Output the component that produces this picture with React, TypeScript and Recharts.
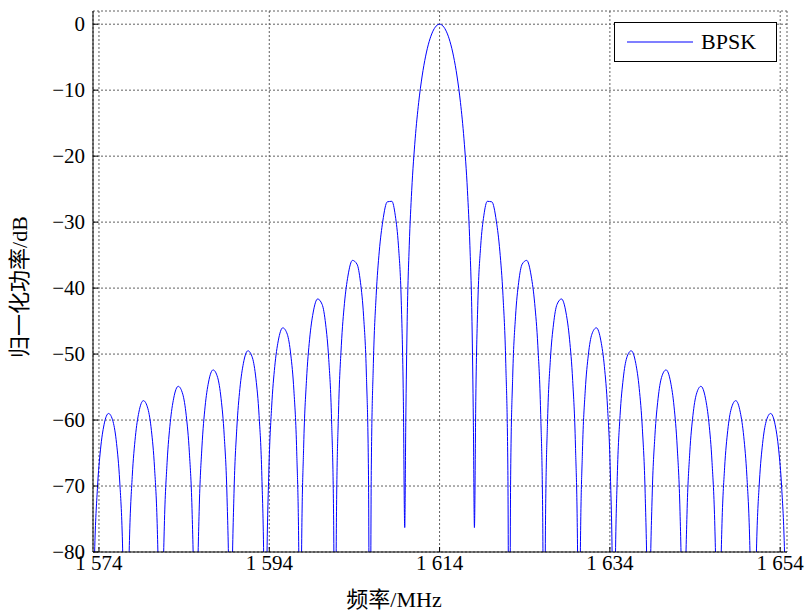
import React from 'react';
import { LineChart, Line, XAxis, YAxis, CartesianGrid } from 'recharts';

const SERIF = "'Liberation Serif', 'Times New Roman', 'DejaVu Serif', serif";
const MIXED = "'Liberation Serif', 'Noto Sans CJK SC', serif";

// Frequency (MHz) / normalised power (dB), left side lobes
const leftFreq = [
  1573.08,
  1573.244, 1573.489, 1573.817, 1574.185, 1574.594, 1575.126, 1575.658, 1576.067, 1576.435, 1576.763, 1577.008,
  1577.172,
  1577.336, 1577.581, 1577.909, 1578.277, 1578.686, 1579.218, 1579.75, 1580.159, 1580.527, 1580.855, 1581.1,
  1581.264,
  1581.428, 1581.673, 1582.001, 1582.369, 1582.778, 1583.31, 1583.842, 1584.251, 1584.619, 1584.947, 1585.192,
  1585.356,
  1585.52, 1585.765, 1586.093, 1586.461, 1586.87, 1587.402, 1587.934, 1588.343, 1588.711, 1589.039, 1589.284,
  1589.448,
  1589.612, 1589.857, 1590.185, 1590.553, 1590.962, 1591.494, 1592.026, 1592.435, 1592.803, 1593.131, 1593.376,
  1593.54,
  1593.704, 1593.949, 1594.277, 1594.645, 1595.054, 1595.586, 1596.118, 1596.527, 1596.895, 1597.223, 1597.468,
  1597.632,
  1597.796, 1598.041, 1598.369, 1598.737, 1599.146, 1599.678, 1600.21, 1600.619, 1600.987, 1601.315, 1601.56,
  1601.724,
  1601.888, 1602.133, 1602.461, 1602.829, 1603.238, 1603.77, 1604.302, 1604.711, 1605.079, 1605.407, 1605.652,
  1605.816,
  1605.98, 1606.225, 1606.553, 1606.921, 1607.33, 1607.862, 1608.394, 1608.803, 1609.171, 1609.499, 1609.744,
  1609.908,
];
const leftPower = [
  -110,
  -95.9, -80.11, -70.41, -64.41, -60.72, -59.0, -60.25, -63.56, -69.24, -78.65, -94.21,
  -110,
  -94.06, -78.26, -68.55, -62.52, -58.82, -57.06, -58.29, -61.58, -67.24, -76.63, -92.18,
  -110,
  -92.0, -76.19, -66.45, -60.41, -56.68, -54.89, -56.08, -59.34, -64.97, -74.34, -89.87,
  -110,
  -89.67, -73.84, -64.08, -58.0, -54.24, -52.4, -53.54, -56.77, -62.37, -71.7, -87.21,
  -110,
  -86.98, -71.12, -61.32, -55.21, -51.4, -49.5, -50.58, -53.75, -59.3, -68.59, -84.06,
  -110,
  -83.79, -67.9, -58.05, -51.88, -48.0, -46.02, -47.0, -50.1, -55.57, -64.8, -80.22,
  -110,
  -79.88, -63.93, -54.01, -47.75, -43.77, -41.65, -42.48, -45.46, -50.82, -59.94, -75.28,
  -110,
  -74.82, -58.79, -48.74, -42.33, -38.18, -35.8, -36.37, -39.12, -44.27, -53.18, -68.36,
  -110,
  -67.66, -51.44, -41.13, -34.4, -29.87, -26.93, -26.85, -29.03, -33.6, -41.94, -56.65,
  -76.3,
];

// Main lobe
const mainFreq = [
  1610.031, 1610.194, 1610.44, 1610.726, 1611.136, 1611.545, 1611.954, 1612.363, 1612.772, 1613.182, 1613.591,
  1614.0,
  1614.409, 1614.818, 1615.228, 1615.637, 1616.046, 1616.455, 1616.864, 1617.274, 1617.56, 1617.806, 1617.969,
];
const mainPower = [
  -60.41, -45.08, -33.51, -25.24, -17.37, -11.88, -7.85, -4.84, -2.65, -1.16, -0.29,
  0,
  -0.29, -1.16, -2.65, -4.84, -7.85, -11.88, -17.37, -25.24, -33.51, -45.08, -60.41,
];

// Right side lobes
const rightFreq = [
  1618.092,
  1618.256, 1618.501, 1618.829, 1619.197, 1619.606, 1620.138, 1620.67, 1621.079, 1621.447, 1621.775, 1622.02,
  1622.184,
  1622.348, 1622.593, 1622.921, 1623.289, 1623.698, 1624.23, 1624.762, 1625.171, 1625.539, 1625.867, 1626.112,
  1626.276,
  1626.44, 1626.685, 1627.013, 1627.381, 1627.79, 1628.322, 1628.854, 1629.263, 1629.631, 1629.959, 1630.204,
  1630.368,
  1630.532, 1630.777, 1631.105, 1631.473, 1631.882, 1632.414, 1632.946, 1633.355, 1633.723, 1634.051, 1634.296,
  1634.46,
  1634.624, 1634.869, 1635.197, 1635.565, 1635.974, 1636.506, 1637.038, 1637.447, 1637.815, 1638.143, 1638.388,
  1638.552,
  1638.716, 1638.961, 1639.289, 1639.657, 1640.066, 1640.598, 1641.13, 1641.539, 1641.907, 1642.235, 1642.48,
  1642.644,
  1642.808, 1643.053, 1643.381, 1643.749, 1644.158, 1644.69, 1645.222, 1645.631, 1645.999, 1646.327, 1646.572,
  1646.736,
  1646.9, 1647.145, 1647.473, 1647.841, 1648.25, 1648.782, 1649.314, 1649.723, 1650.091, 1650.419, 1650.664,
  1650.828,
  1650.992, 1651.237, 1651.565, 1651.933, 1652.342, 1652.874, 1653.406, 1653.815, 1654.183, 1654.511, 1654.756,
  1654.92,
];
const rightPower = [
  -76.3,
  -56.65, -41.94, -33.6, -29.03, -26.85, -26.93, -29.87, -34.4, -41.13, -51.44, -67.66,
  -110,
  -68.36, -53.18, -44.27, -39.12, -36.37, -35.8, -38.18, -42.33, -48.74, -58.79, -74.82,
  -110,
  -75.28, -59.94, -50.82, -45.46, -42.48, -41.65, -43.77, -47.75, -54.01, -63.93, -79.88,
  -110,
  -80.22, -64.8, -55.57, -50.1, -47.0, -46.02, -48.0, -51.88, -58.05, -67.9, -83.79,
  -110,
  -84.06, -68.59, -59.3, -53.75, -50.58, -49.5, -51.4, -55.21, -61.32, -71.12, -86.98,
  -110,
  -87.21, -71.7, -62.37, -56.77, -53.54, -52.4, -54.24, -58.0, -64.08, -73.84, -89.67,
  -110,
  -89.87, -74.34, -64.97, -59.34, -56.08, -54.89, -56.68, -60.41, -66.45, -76.19, -92.0,
  -110,
  -92.18, -76.63, -67.24, -61.58, -58.29, -57.06, -58.82, -62.52, -68.55, -78.26, -94.06,
  -110,
  -94.21, -78.65, -69.24, -63.56, -60.25, -59.0, -60.72, -64.41, -70.41, -80.11, -95.9,
  -110,
];

const xTicks = [1574, 1594, 1614, 1634, 1654];
const xTickLabels = ['1 574', '1 594', '1 614', '1 634', '1 654'];
const yTicks = [0, -10, -20, -30, -40, -50, -60, -70, -80];
const yTickLabels = ['0', '\u221210', '\u221220', '\u221230', '\u221240', '\u221250', '\u221260', '\u221270', '\u221280'];

const seriesName = 'BPSK';
const xTitle = '频率/MHz';
const yTitle = '归一化功率/dB';

const xDomain: [number, number] = [1573.3, 1654.8];
const yDomain: [number, number] = [-80, 2];

const allFreq = [...leftFreq, ...mainFreq, ...rightFreq];
const allPower = [...leftPower, ...mainPower, ...rightPower];
const data = allFreq.map((f, i) => ({ f, p: allPower[i] }));

const XTitle = () => (
  <text x={394} y={607} textAnchor="middle" fontSize={22} fontFamily={MIXED} fill="#000">
    {xTitle}
  </text>
);

const YTitle = () => (
  <text
    x={19}
    y={287}
    textAnchor="middle"
    dominantBaseline="central"
    fontSize={22}
    fontFamily={MIXED}
    fill="#000"
    transform="rotate(-90, 19, 287)"
  >
    {yTitle}
  </text>
);

const XTick = (props: any) => {
  const { x, y, payload } = props;
  const i = xTicks.indexOf(payload.value);
  return (
    <text x={x} y={y} dy={16} textAnchor="middle" fontSize={21} fontFamily={SERIF} fill="#000">
      {i >= 0 ? xTickLabels[i] : String(payload.value)}
    </text>
  );
};

const YTick = (props: any) => {
  const { x, y, payload } = props;
  const i = yTicks.indexOf(payload.value);
  return (
    <text x={x} y={y} dy={7} textAnchor="end" fontSize={21} fontFamily={SERIF} fill="#000">
      {i >= 0 ? yTickLabels[i] : String(payload.value)}
    </text>
  );
};

export default function App() {
  return (
    <div style={{ position: 'absolute', left: 0, top: 0, width: 809, height: 612, background: '#fff' }}>
      <LineChart width={809} height={612} data={data} margin={{ top: 11, right: 22, bottom: 30, left: 33 }}>
        <CartesianGrid stroke="#606060" strokeDasharray="2 2" />
        <XAxis
          dataKey="f"
          type="number"
          domain={xDomain}
          allowDataOverflow
          ticks={xTicks}
          interval={0}
          tickSize={-5}
          tickMargin={7}
          height={30}
          stroke="#000"
          tick={<XTick />}
          label={<XTitle />}
        />
        <XAxis
          xAxisId="top"
          orientation="top"
          type="number"
          domain={xDomain}
          allowDataOverflow
          ticks={xTicks}
          interval={0}
          tick={false}
          tickSize={-5}
          height={0}
          stroke="#000"
        />
        <YAxis
          type="number"
          domain={yDomain}
          allowDataOverflow
          ticks={yTicks}
          interval={0}
          tickSize={-5}
          tickMargin={13}
          width={60}
          stroke="#000"
          tick={<YTick />}
          label={<YTitle />}
        />
        <YAxis
          yAxisId="right"
          orientation="right"
          type="number"
          domain={yDomain}
          allowDataOverflow
          ticks={yTicks}
          interval={0}
          tick={false}
          tickSize={-5}
          width={0}
          stroke="#000"
        />
        <Line
          dataKey="p"
          name={seriesName}
          type="monotone"
          stroke="#0000ff"
          strokeWidth={1}
          dot={false}
          activeDot={false}
          isAnimationActive={false}
        />
      </LineChart>
      <div
        style={{
          position: 'absolute',
          left: 614,
          top: 22,
          width: 163,
          height: 40,
          boxSizing: 'border-box',
          border: '1px solid #000',
          background: '#fff',
        }}
      >
        <svg
          width={70}
          height={10}
          style={{ position: 'absolute', left: 11, top: 14, overflow: 'visible' }}
        >
          <line x1={1} y1={5} x2={67} y2={5} stroke="#0000ff" strokeWidth={1.2} />
        </svg>
        <div
          style={{
            position: 'absolute',
            left: 86,
            top: 0,
            height: 38,
            lineHeight: '38px',
            fontSize: 22,
            fontFamily: SERIF,
            color: '#000',
            whiteSpace: 'nowrap',
          }}
        >
          {seriesName}
        </div>
      </div>
    </div>
  );
}
